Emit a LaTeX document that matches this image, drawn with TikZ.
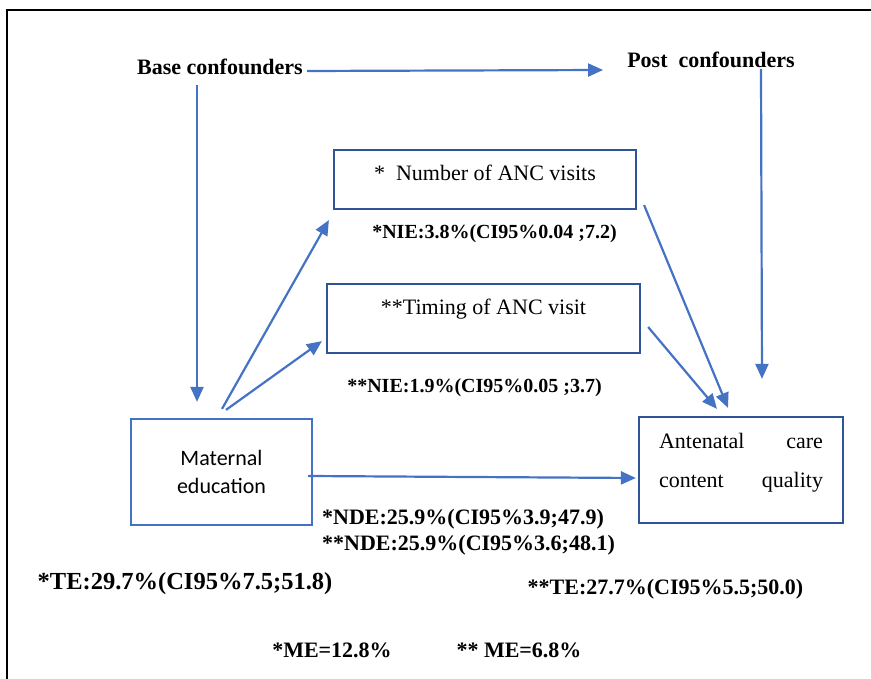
\documentclass[tikz,border=0pt]{standalone}
\usepackage{fontspec}
\setmainfont{Liberation Serif}
\newfontfamily\calibrifont{Carlito}
\usetikzlibrary{arrows.meta, positioning, calc}
\definecolor{ArrowBlue}{HTML}{4472C4}
\definecolor{BoxInk}{HTML}{2F5597}
\definecolor{FrameInk}{HTML}{000000}

\begin{document}
\begin{tikzpicture}[
  x=1pt, y=-1pt,
  box/.style={
    draw=BoxInk,
    line width=2.2pt,
    inner sep=0pt,
    font=\fontsize{22}{26}\selectfont,
  },
  lab/.style={
    inner sep=0pt,
    font=\bfseries\fontsize{22}{26}\selectfont,
  },
  nie/.style={
    inner sep=0pt,
    font=\bfseries\fontsize{20}{24}\selectfont,
  },
  link/.style={
    -{Triangle[length=15pt,width=13pt]},
    ArrowBlue,
    line width=2.2pt,
  },
]
  \useasboundingbox (0,0) rectangle (871,679);
  \draw[FrameInk, line width=2pt] (871,10) -- (7,10) -- (7,679);

  % confounders
  \node[lab] (base) at (220,67) {Base confounders};
  \node[lab] (post) at (711,60) {Post\ \ confounders};

  % mediators
  \node[
    box,
    minimum width=302pt,
    minimum height=59pt,
    text height=16pt,
    text depth=14pt,
  ] (num) at (485,179.5) {*\ \ Number of ANC visits};
  \node[nie] (nie1) at (494.5,234) {*NIE:3.8\%(CI95\%0.04 ;7.2)};

  \node[
    box,
    minimum width=313pt,
    minimum height=69pt,
    text height=16pt,
    text depth=24pt,
  ] (tim) at (483.5,318.5) {**Timing of ANC visit};
  \node[nie] (nie2) at (474.5,388) {**NIE:1.9\%(CI95\%0.05 ;3.7)};

  % exposure and outcome
  \node[
    box,
    draw=ArrowBlue,
    minimum width=181pt,
    minimum height=106pt,
    align=center,
    font=\calibrifont\fontsize{22}{28}\selectfont,
  ] (mat) at (221.5,472) {Maternal\\education};

  \node[
    box,
    minimum width=204pt,
    minimum height=106pt,
    text width=164pt,
    align=left,
    text height=15pt,
    text depth=59pt,
    font=\fontsize{22}{39}\selectfont,
  ] (ant) at (741,470) {Antenatal\hfill care\\content\hfill quality};

  % effects
  \node[lab, anchor=base west] (nde1) at (322,524) {*NDE:25.9\%(CI95\%3.9;47.9)};
  \node[lab, anchor=base west] (nde2) at ([yshift=-26pt]nde1.base west) {**NDE:25.9\%(CI95\%3.6;48.1)};
  \node[lab, font=\bfseries\fontsize{24.5}{28}\selectfont] (te1) at (185,584) {*TE:29.7\%(CI95\%7.5;51.8)};
  \node[lab] (te2) at (665.5,589) {**TE:27.7\%(CI95\%5.5;50.0)};
  \node[lab] (me1) at (332,650) {*ME=12.8\%};
  \node[lab] (me2) at (519,650) {** ME=6.8\%};

  % arrows
  \draw[link] ($(base.east)+(4,4)$) -- ($(post.west)+(-24,10)$);
  \draw[link] ($(base.center)+(-23,18)$) -- ($(mat.north)+(-24.5,-16)$);
  \draw[link] ($(post.center)+(50,9)$) -- ($(ant.north)+(21,-37)$);
  \draw[link] ($(mat.north)+(0.5,-9)$) -- ($(num.south west)+(-4,10)$);
  \draw[link] ($(mat.north)+(4.5,-8)$) -- ($(tim.south west)+(-4,-13)$);
  \draw[link] ($(num.south east)+(7,-5)$) -- ($(ant.north)+(-13,-8)$);
  \draw[link] ($(tim.east)+(7,8.5)$) -- ($(ant.north)+(-24,-7)$);
  \draw[link] ($(mat.east)+(-5,4)$) -- ($(ant.west)+(-2,8)$);
\end{tikzpicture}
\end{document}
